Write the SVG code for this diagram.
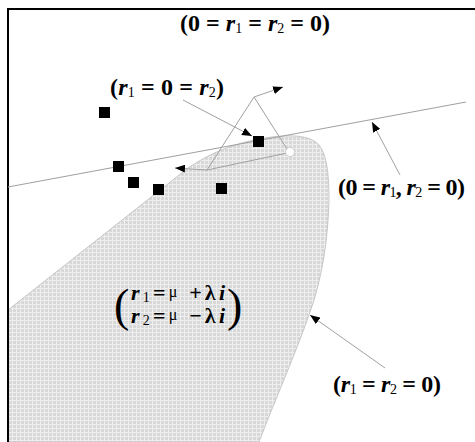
<svg xmlns="http://www.w3.org/2000/svg" width="475" height="442" viewBox="0 0 475 442">
<style>
.t{font-family:"Liberation Serif","Times New Roman",serif;font-weight:bold;font-size:24px;fill:#000}
.v{font-style:italic}
.s{font-size:14px;font-weight:normal}
.m{font-size:16px;font-weight:normal}
.p{font-size:46px;font-weight:normal}
.mx{font-size:22px}
.ln{stroke:#a0a0a0;stroke-width:1;fill:none}
.sq{fill:#000}
</style>
<defs>
<pattern id="hatch" width="4" height="4" patternUnits="userSpaceOnUse">
<rect width="4" height="4" fill="#d8d8d8"/>
<path d="M0,0.5H4M0.5,0V4" stroke="#eeeeee" stroke-width="1"/>
</pattern>
<marker id="ah" viewBox="0 0 10 8" refX="10" refY="4" markerWidth="10" markerHeight="8" orient="auto" markerUnits="userSpaceOnUse">
<path d="M0,0 L10,4 L0,8 z" fill="#000"/>
</marker>
</defs>
<rect width="475" height="442" fill="#fff"/>
<g id="region">
<path d="M8,310 L188,168 C215,150 240,142 265,138 C290,134 310,135 319,145 C327,155 329,175 329,200 C328,240 322,280 309,315 C295,355 275,400 259,442 L8,442 Z" fill="url(#hatch)" stroke="#bbbbbb" stroke-width="0.8"/>
</g>
<g id="frame">
<path d="M8,442 V9 H475" fill="none" stroke="#000" stroke-width="2"/>
</g>
<g id="boundary-line">
<line class="ln" x1="8" y1="187" x2="466" y2="102"/>
</g>
<g id="connectors">
<line class="ln" x1="183" y1="100" x2="252" y2="136" marker-end="url(#ah)"/>
<line class="ln" x1="254" y1="97" x2="283" y2="87" marker-end="url(#ah)"/>
<line class="ln" x1="254" y1="97" x2="207" y2="170"/>
<line class="ln" x1="254" y1="97" x2="287" y2="149"/>
<polyline class="ln" points="287,153 207,170 175,168" marker-end="url(#ah)"/>
<line class="ln" x1="400" y1="175" x2="372" y2="122" marker-end="url(#ah)"/>
<line class="ln" x1="385" y1="368" x2="310" y2="315" marker-end="url(#ah)"/>
</g>
<g id="points">
<rect class="sq" x="99" y="107" width="11" height="11"/>
<rect class="sq" x="253" y="136" width="11" height="11"/>
<rect class="sq" x="113" y="161" width="11" height="11"/>
<rect class="sq" x="128" y="177" width="11" height="11"/>
<rect class="sq" x="153" y="184" width="11" height="11"/>
<rect class="sq" x="216" y="183" width="11" height="11"/>
<circle cx="290" cy="152" r="4.5" fill="#fff" stroke="#c8c8c8" stroke-width="0.8"/>
</g>
<g id="title">
<text class="t" x="180" y="31" textLength="150" lengthAdjust="spacing">(0 = <tspan class="v">r</tspan><tspan class="s" dy="2">1</tspan><tspan dy="-2"> = </tspan><tspan class="v">r</tspan><tspan class="s" dy="2">2</tspan><tspan dy="-2"> = 0)</tspan></text>
</g>
<g id="label-a">
<text class="t" x="110" y="95" textLength="114" lengthAdjust="spacing">(<tspan class="v">r</tspan><tspan class="s" dy="2">1</tspan><tspan dy="-2"> = 0 = </tspan><tspan class="v">r</tspan><tspan class="s" dy="2">2</tspan><tspan dy="-2">)</tspan></text>
</g>
<g id="label-b">
<text class="t" x="338" y="195" textLength="127" lengthAdjust="spacing">(0 = <tspan class="v">r</tspan><tspan class="s" dy="2">1</tspan><tspan dy="-2">, </tspan><tspan class="v">r</tspan><tspan class="s" dy="2">2</tspan><tspan dy="-2"> = 0)</tspan></text>
</g>
<g id="label-c">
<text class="t" x="333" y="392" textLength="108" lengthAdjust="spacing">(<tspan class="v">r</tspan><tspan class="s" dy="2">1</tspan><tspan dy="-2"> = </tspan><tspan class="v">r</tspan><tspan class="s" dy="2">2</tspan><tspan dy="-2"> = 0)</tspan></text>
</g>
<g id="label-region">
<text class="t p" x="114" y="321">(</text>
<text class="t p" x="227" y="321">)</text>
<text class="t mx" x="131" y="300" textLength="94" lengthAdjust="spacing"><tspan class="v">r</tspan><tspan class="s" dy="2">1</tspan><tspan dy="-2">=</tspan><tspan class="m" dy="-3">μ</tspan><tspan dy="3"> +λ</tspan><tspan class="v">i</tspan></text>
<text class="t mx" x="131" y="323" textLength="94" lengthAdjust="spacing"><tspan class="v">r</tspan><tspan class="s" dy="2">2</tspan><tspan dy="-2">=</tspan><tspan class="m" dy="-3">μ</tspan><tspan dy="3"> −λ</tspan><tspan class="v">i</tspan></text>
</g>
</svg>
